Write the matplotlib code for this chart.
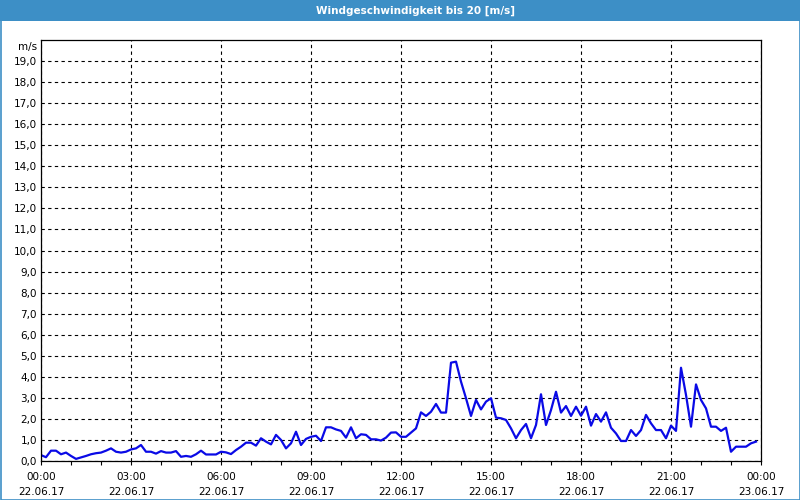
import matplotlib
matplotlib.use("Agg")
import matplotlib.pyplot as plt
import matplotlib.dates as mdates
from matplotlib.patches import Rectangle
import pandas as pd

# Messwerte alle 10 Minuten, 22.06.17 00:00 - 23:50
start = "2017-06-22 00:00"
wind = [0.28, 0.18, 0.49, 0.49, 0.32, 0.40, 0.24, 0.10, 0.17, 0.24,
        0.32, 0.37, 0.40, 0.49, 0.60, 0.44, 0.40, 0.44, 0.55, 0.60,
        0.76, 0.44, 0.44, 0.35, 0.47, 0.40, 0.40, 0.47, 0.20, 0.24,
        0.20, 0.32, 0.49, 0.31, 0.31, 0.31, 0.44, 0.41, 0.33, 0.52,
        0.68, 0.87, 0.87, 0.73, 1.08, 0.92, 0.79, 1.24, 1.00, 0.60,
        0.84, 1.39, 0.76, 1.05, 1.15, 1.20, 0.95, 1.60, 1.60, 1.50,
        1.43, 1.11, 1.60, 1.08, 1.27, 1.24, 1.03, 1.03, 0.97, 1.11,
        1.35, 1.36, 1.15, 1.15, 1.35, 1.55, 2.31, 2.14, 2.34, 2.71,
        2.30, 2.30, 4.67, 4.72, 3.77, 2.98, 2.14, 2.90, 2.45, 2.82,
        2.98, 2.06, 2.03, 1.95, 1.55, 1.08, 1.47, 1.76, 1.08, 1.71,
        3.17, 1.71, 2.42, 3.29, 2.30, 2.61, 2.14, 2.58, 2.15, 2.58,
        1.68, 2.23, 1.87, 2.31, 1.58, 1.31, 0.95, 0.95, 1.47, 1.19,
        1.47, 2.19, 1.79, 1.47, 1.47, 1.08, 1.68, 1.43, 4.43, 3.14,
        1.63, 3.64, 2.90, 2.50, 1.63, 1.63, 1.43, 1.58, 0.44, 0.68,
        0.68, 0.68, 0.84, 0.92]
title = "Windgeschwindigkeit bis 20 [m/s]"
unit = "m/s"

times = pd.date_range(start, periods=len(wind), freq="10min")
t0 = pd.Timestamp(start)
t1 = t0 + pd.Timedelta(hours=24)

plt.rcParams['font.family'] = ['DejaVu Sans']
plt.rcParams['font.size'] = 7.5

W, H = 800, 500
fig = plt.figure(figsize=(8, 5), dpi=100, facecolor="white")
ax = fig.add_axes([41 / W, 1 - 461 / H, 720 / W, 421 / H])

ax.plot(times, wind, color="#0a0ae6", lw=1.6)

ax.set_xlim(t0, t1)
ax.set_ylim(0, 20)
ax.set_yticks(range(0, 20))
ax.set_yticklabels([f"{v:.1f}".replace(".", ",") for v in range(0, 20)])
ax.tick_params(axis="y", length=0, pad=3, labelsize=7.5)

ax.xaxis.set_major_locator(mdates.HourLocator(byhour=range(0, 24, 3)))
ax.xaxis.set_minor_locator(mdates.HourLocator())
ax.xaxis.set_major_formatter(mdates.DateFormatter("%H:%M\n%d.%m.%y"))
ax.tick_params(axis="x", which="both", length=3, width=0.8, pad=5, labelsize=7.5)
for lab in ax.get_xticklabels():
    lab.set_linespacing(1.6)

ax.grid(True, which="major", color="black", linestyle=(0, (3, 3)), linewidth=0.8)
for s in ax.spines.values():
    s.set_color("black")
    s.set_linewidth(0.9)

fig.text(37 / W, 1 - 47 / H, unit, ha="right", va="center", fontsize=7.5)

# Titelleiste und Rahmen
fig.patches.append(Rectangle((0, 1 - 21 / H), 1, 21 / H, transform=fig.transFigure,
                             facecolor="#3d8fc6", edgecolor="none", zorder=0))
fig.patches.append(Rectangle((0.5 / W, 0.5 / H), 1 - 1 / W, 1 - 1 / H, transform=fig.transFigure,
                             facecolor="none", edgecolor="#3d8fc6", lw=1.2, zorder=1))
fig.text(415 / W, 1 - 10.5 / H, title, ha="center", va="center", color="white",
         fontsize=7.5, fontweight="bold")

fig.savefig("out.png", dpi=100)
